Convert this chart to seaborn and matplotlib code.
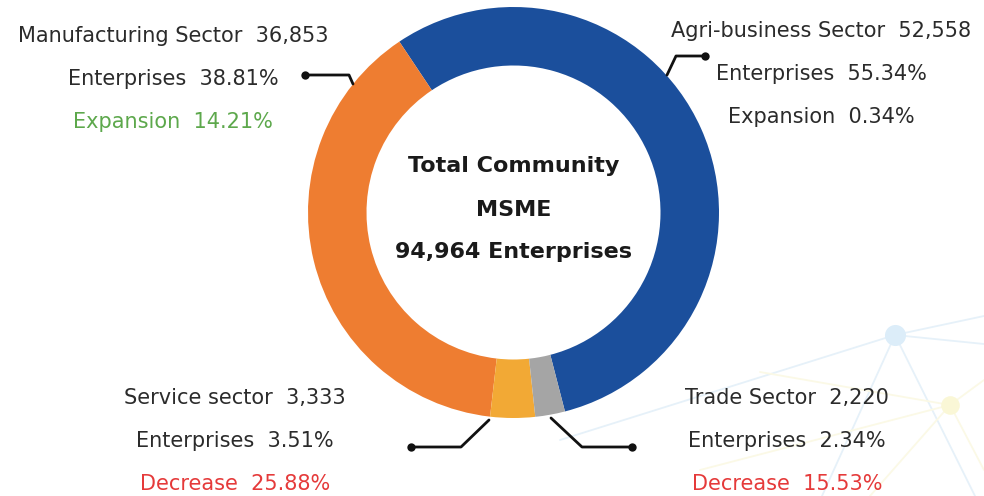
import matplotlib
matplotlib.use("Agg")
import matplotlib.pyplot as plt
import seaborn as sns

# Community MSME enterprises by sector
sectors = ["Agri-business Sector", "Manufacturing Sector", "Service sector", "Trade Sector"]
enterprises = [52558, 36853, 3333, 2220]
shares = [55.34, 38.81, 3.51, 2.34]
change_kind = ["Expansion", "Expansion", "Decrease", "Decrease"]
change_pct = [0.34, 14.21, 25.88, 15.53]
total_enterprises = 94964

sns.set_theme(style="white")
plt.rcParams["font.family"] = ["DejaVu Sans"]

W, H = 984, 496
ring_colors = sns.color_palette(["#1B4F9C", "#EE7D31", "#F2A935", "#A5A5A5"])
change_colors = {"Agri-business Sector": "#2b2b2b",
                 "Manufacturing Sector": "#5DA84C",
                 "Service sector": "#E53A3A",
                 "Trade Sector": "#E53A3A"}
text_color = "#2b2b2b"

fig = plt.figure(figsize=(W / 100, H / 100), dpi=100)
ax = fig.add_axes([0, 0, 1, 1])


def Y(y):
    return H - y


# faint network decoration in the lower right corner
net_blue = "#E6F1F9"
net_yellow = "#FBF9E6"
hub = (895, 335)
for end in [(984, 316), (984, 344), (560, 440), (822, 496), (975, 496)]:
    ax.plot([hub[0], end[0]], [Y(hub[1]), Y(end[1])], color=net_blue, lw=1.3, zorder=0)
ax.scatter([hub[0]], [Y(hub[1])], s=230, color="#DCEDF9", zorder=0, linewidths=0)
hub2 = (950, 405)
for end in [(760, 372), (984, 380), (870, 496), (984, 470), (700, 470)]:
    ax.plot([hub2[0], end[0]], [Y(hub2[1]), Y(end[1])], color=net_yellow, lw=1.3, zorder=0)
ax.scatter([hub2[0]], [Y(hub2[1])], s=180, color="#FAF7D6", zorder=0, linewidths=0)

# donut ring
cx, cy, r_out, r_in = 513.5, 212.5, 205.5, 147
ax.pie(enterprises, colors=ring_colors, startangle=284.5, counterclock=True,
       center=(cx, Y(cy)), radius=r_out, frame=True,
       wedgeprops=dict(width=r_out - r_in, linewidth=0, edgecolor="none"))
ax.set_xlim(0, W)
ax.set_ylim(0, H)
ax.set_aspect("equal")
ax.axis("off")

# centre label
center_lines = ["Total Community", "MSME", f"{total_enterprises:,} Enterprises"]
for txt, y in zip(center_lines, [166, 210, 252]):
    ax.text(cx, Y(y), txt, ha="center", va="center", fontsize=16,
            fontweight="bold", color="#1a1a1a")

# sector labels: (centre x, first line y)
label_pos = {"Agri-business Sector": (821, 31),
             "Manufacturing Sector": (173, 36),
             "Service sector": (235, 398),
             "Trade Sector": (787, 398)}
line_gap = 43
fs = 15
for name, n, sh, kind, pct in zip(sectors, enterprises, shares, change_kind, change_pct):
    x, y = label_pos[name]
    ax.text(x, Y(y), f"{name}  {n:,}", ha="center", va="center",
            fontsize=fs, color=text_color)
    ax.text(x, Y(y + line_gap), f"Enterprises  {sh:.2f}%", ha="center", va="center",
            fontsize=fs, color=text_color)
    ax.text(x, Y(y + 2 * line_gap), f"{kind}  {pct:.2f}%", ha="center", va="center",
            fontsize=fs, color=change_colors[name])

# leader lines with end dots
leaders = {"Agri-business Sector": [(667, 75), (676, 56), (705, 56)],
           "Manufacturing Sector": [(353, 84), (349, 75), (305, 75)],
           "Service sector": [(489, 420), (461, 447), (411, 447)],
           "Trade Sector": [(551, 418), (582, 447), (632, 447)]}
for pts in leaders.values():
    xs = [p[0] for p in pts]
    ys = [Y(p[1]) for p in pts]
    ax.plot(xs, ys, color="#111111", lw=2, solid_capstyle="round", zorder=3)
    ax.scatter([xs[-1]], [ys[-1]], s=36, color="#111111", zorder=4, linewidths=0)

fig.savefig("out.png", dpi=100, facecolor="white")
